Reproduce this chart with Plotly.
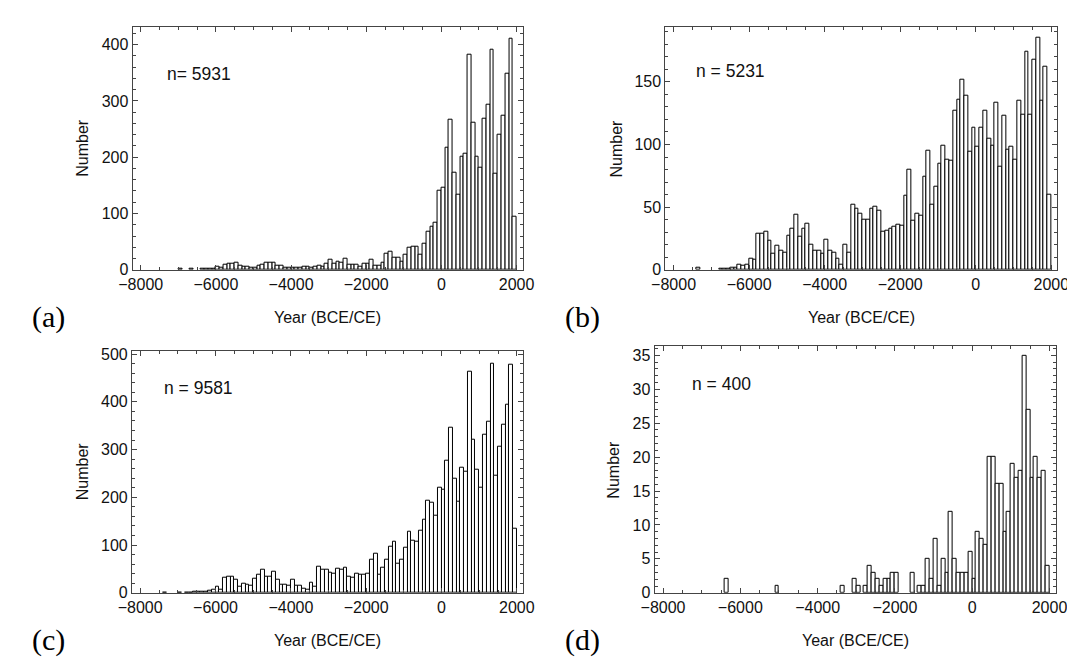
import plotly.graph_objects as go

# ---- data: 100-year bins from -8000 to 2000 (bin start years) ----
bin_starts = list(range(-8000, 2000, 100))

counts_a = [
    0, 0, 0, 0, 0, 0, 0, 0, 0, 0,
    1, 0, 0, 1, 0, 0, 1, 1, 1, 2,
    5, 4, 9, 10, 11, 13, 8, 6, 5, 3,
    4, 7, 9, 13, 13, 12, 8, 7, 4, 3,
    3, 4, 3, 5, 5, 4, 6, 8, 6, 11,
    17, 11, 14, 13, 20, 9, 9, 9, 5, 10,
    10, 17, 7, 8, 13, 29, 32, 22, 22, 14,
    26, 39, 41, 41, 27, 47, 67, 76, 84, 140,
    146, 217, 266, 173, 134, 201, 206, 383, 262, 201,
    181, 268, 294, 391, 171, 240, 274, 349, 411, 94,
]
counts_b = [
    0, 0, 0, 0, 0, 0, 2, 0, 0, 0,
    0, 0, 1, 1, 1, 2, 2, 4, 3, 4,
    9, 8, 29, 29, 30, 23, 13, 19, 15, 14,
    27, 33, 44, 26, 33, 37, 20, 15, 15, 13,
    24, 15, 14, 9, 4, 20, 14, 52, 49, 45,
    40, 40, 49, 50, 47, 30, 31, 33, 34, 36,
    35, 59, 80, 39, 45, 43, 74, 95, 52, 66,
    85, 99, 88, 87, 127, 136, 152, 139, 94, 113,
    98, 113, 127, 105, 99, 133, 82, 123, 96, 98,
    88, 135, 124, 174, 124, 168, 185, 135, 162, 60,
]
counts_c = [
    0, 0, 0, 0, 0, 0, 1, 0, 0, 0,
    1, 0, 1, 1, 2, 2, 3, 3, 5, 6,
    13, 6, 31, 34, 33, 28, 13, 18, 16, 14,
    29, 38, 48, 33, 34, 44, 27, 16, 16, 15,
    27, 14, 14, 9, 7, 22, 13, 54, 49, 48,
    42, 39, 50, 49, 52, 33, 32, 39, 37, 38,
    40, 69, 81, 37, 53, 69, 96, 107, 61, 69,
    95, 127, 109, 107, 130, 153, 193, 188, 161, 220,
    216, 277, 345, 239, 191, 261, 253, 463, 321, 258,
    220, 331, 358, 480, 246, 306, 352, 394, 477, 134,
]
counts_d = [
    0, 0, 0, 0, 0, 0, 0, 0, 0, 0,
    0, 0, 0, 0, 0, 0, 2, 0, 0, 0,
    0, 0, 0, 0, 0, 0, 0, 0, 0, 1,
    0, 0, 0, 0, 0, 0, 0, 0, 0, 0,
    0, 0, 0, 0, 0, 0, 1, 0, 0, 2,
    1, 0, 1, 4, 3, 2, 1, 2, 2, 3,
    3, 0, 0, 0, 3, 0, 1, 1, 5, 2,
    8, 1, 5, 3, 12, 5, 3, 3, 3, 6,
    2, 9, 8, 7, 20, 20, 16, 16, 9, 12,
    19, 17, 18, 35, 27, 17, 20, 17, 18, 4,
]

n_labels = ["n= 5931", "n = 5231", "n = 9581", "n = 400"]
panel_tags = ["(a)", "(b)", "(c)", "(d)"]
x_title = "Year (BCE/CE)"
y_title = "Number"
x_ticks = [-8000, -6000, -4000, -2000, 0, 2000]
y_major = [100, 50, 100, 5]
y_minor = [20, 10, 20, 1]
y_tops = [432, 194, 507, 36.4]

# ---- layout (pixel frames of each panel) ----
W, H = 1075, 663
frames = [  # x0, x1, y0(top), y1(bottom)
    (113.3, 513.0, 14.0, 262.3),
    (659.3, 1061.0, 14.0, 262.3),
    (112.7, 513.3, 345.0, 592.3),
    (648.3, 1059.3, 340.0, 592.3),
]
n_pos = [(147, 62.5), (689, 59), (143, 383.5), (685, 379.5)]
tag_pos = [(27, 311), (574, 311), (27, 641), (574, 641)]
ytitle_x = [62, 609, 62, 606]
XR = [-8218, 2160]

FRAME = "#444444"
TXT = "#111111"
SANS = "Liberation Sans, Arial, sans-serif"

fig = go.Figure()
all_counts = [counts_a, counts_b, counts_c, counts_d]
for i, cnt in enumerate(all_counts):
    xs = [s + 50 for s, c in zip(bin_starts, cnt) if c > 0]
    ys = [c for c in cnt if c > 0]
    suffix = "" if i == 0 else str(i + 1)
    fig.add_trace(go.Bar(
        x=xs, y=ys, width=100,
        marker=dict(color="white", line=dict(color="black", width=1)),
        xaxis="x" + suffix, yaxis="y" + suffix, showlegend=False,
        hoverinfo="x+y",
    ))

annotations = []
for i, (x0, x1, y0, y1) in enumerate(frames):
    suffix = "" if i == 0 else str(i + 1)
    common = dict(
        showline=True, linecolor=FRAME, linewidth=1, mirror="ticks",
        ticks="inside", tickcolor=FRAME, tickwidth=1, ticklen=5,
        showgrid=False, zeroline=False,
        tickfont=dict(family=SANS, size=16, color=TXT),
    )
    fig.layout["xaxis" + suffix] = dict(
        domain=[x0 / W, x1 / W], anchor="y" + suffix,
        range=XR, tickvals=x_ticks,
        ticktext=[("\u2212" + str(-v)) if v < 0 else str(v) for v in x_ticks],
        minor=dict(ticks="inside", ticklen=3, tickcolor=FRAME, dtick=500, tick0=0, showgrid=False),
        **common,
    )
    fig.layout["yaxis" + suffix] = dict(
        domain=[1 - y1 / H, 1 - y0 / H], anchor="x" + suffix,
        range=[0, y_tops[i]], dtick=y_major[i], tick0=0,
        minor=dict(ticks="inside", ticklen=3, tickcolor=FRAME, dtick=y_minor[i], tick0=0, showgrid=False),
        **common,
    )
    # n label
    annotations.append(dict(
        x=n_pos[i][0] / W, y=1 - n_pos[i][1] / H, xref="paper", yref="paper",
        text=n_labels[i], showarrow=False, xanchor="left", yanchor="middle",
        font=dict(family=SANS, size=17.5, color=TXT),
    ))
    # x title
    annotations.append(dict(
        x=(x0 + x1) / 2 / W, y=1 - (y1 + 49) / H, xref="paper", yref="paper",
        text=x_title, showarrow=False, xanchor="center", yanchor="middle",
        font=dict(family=SANS, size=16, color=TXT),
    ))
    # y title
    annotations.append(dict(
        x=ytitle_x[i] / W, y=1 - (y0 + y1) / 2 / H, xref="paper", yref="paper",
        text=y_title, showarrow=False, xanchor="center", yanchor="middle",
        textangle=-90, font=dict(family=SANS, size=16, color=TXT),
    ))
    # panel tag
    annotations.append(dict(
        x=tag_pos[i][0] / W, y=1 - tag_pos[i][1] / H, xref="paper", yref="paper",
        text=panel_tags[i], showarrow=False, xanchor="center", yanchor="middle",
        font=dict(family="Liberation Serif, DejaVu Serif, serif", size=30, color="#000000"),
    ))

fig.update_layout(
    width=W, height=H, margin=dict(l=0, r=0, t=0, b=0),
    paper_bgcolor="white", plot_bgcolor="white",
    bargap=0, annotations=annotations, showlegend=False,
)

fig.write_html("out.html")
